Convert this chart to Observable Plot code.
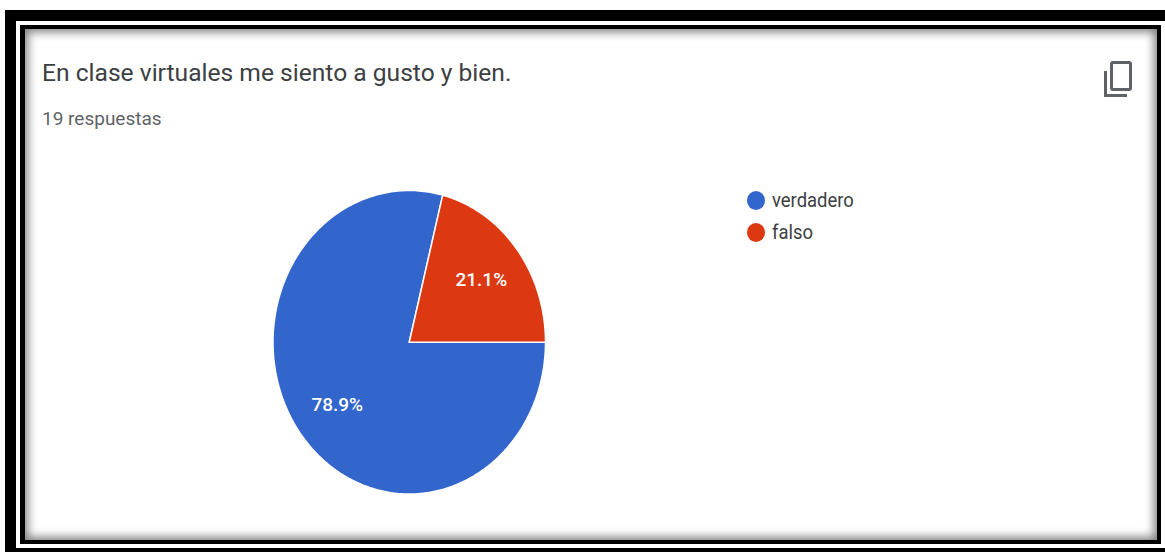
<!DOCTYPE html>
<html lang="es">
<head>
<meta charset="utf-8">
<script src="https://cdn.jsdelivr.net/npm/d3@7"></script>
<script src="https://cdn.jsdelivr.net/npm/@observablehq/plot@0.6"></script>
<style>
  html, body { margin: 0; padding: 0; background: #fff; width: 1165px; height: 552px; overflow: hidden; }
  #stage { position: relative; width: 1165px; height: 552px; overflow: hidden; font-family: Roboto, sans-serif; }
  .abs { position: absolute; }
  #outerL { left: 5px; top: 10px; width: 11px; height: 542px; background: #000; }
  #outerT { left: 5px; top: 10px; width: 1160px; height: 11px; background: #000; }
  #outerB { left: 5px; top: 548px; width: 1160px; height: 4px; background: #000; }
  #inner { left: 20px; top: 25px; width: 1141px; height: 519px; box-sizing: border-box; background: #fff;
           border: 4px solid #000; border-left-width: 5px; box-shadow: inset 0 0 10px 3px rgba(0,0,0,.5); }
  #chart { left: 0; top: 0; }
  #chart svg { display: block; background: transparent; }
  .txt { white-space: nowrap; transform-origin: left top; }
  #title { left: 42px; top: 58px; font-size: 24.6px; line-height: 30px; color: #3c4043; }
  #sub { left: 42px; top: 108px; font-size: 19px; line-height: 22px; color: #5f6368; }
  .dot { width: 18px; height: 19px; border-radius: 50%; left: 747px; }
  .leg { left: 772px; font-size: 19.5px; line-height: 24px; color: #3c4043; transform: scaleX(.945); }
  #ico1 { left: 1110px; top: 61px; width: 22px; height: 30px; box-sizing: border-box; border: 3px solid #5f6368; border-radius: 3px; }
  #ico2 { left: 1104px; top: 71px; width: 23px; height: 26px; box-sizing: border-box; border-left: 3px solid #5f6368; border-bottom: 3px solid #5f6368; }
</style>
</head>
<body>
<div id="stage">
  <div id="outerL" class="abs"></div>
  <div id="outerT" class="abs"></div>
  <div id="outerB" class="abs"></div>
  <div id="inner" class="abs"></div>
  <div id="chart" class="abs"></div>
  <div id="title" class="abs txt">En clase virtuales me siento a gusto y bien.</div>
  <div id="sub" class="abs txt">19 respuestas</div>
  <div id="ico2" class="abs"></div>
  <div id="ico1" class="abs"></div>
  <div class="abs dot" style="top:191px;background:#3366cc"></div>
  <div class="abs leg txt" style="top:189px">verdadero</div>
  <div class="abs dot" style="top:223px;background:#dc3912"></div>
  <div class="abs leg txt" style="top:221px">falso</div>
</div>
<script>
const categories = ["verdadero", "falso"];
const counts = [15, 4];
const percentLabels = ["78.9%", "21.1%"];
const colors = ["#3366cc", "#dc3912"];

const total = d3.sum(counts);
// Slices run clockwise from 3 o'clock, in unit-circle data space.
const startAngle = Math.PI / 2;
let running = 0;
const outline = [];
const labels = [];
categories.forEach((name, i) => {
  const a0 = startAngle + (running / total) * 2 * Math.PI;
  running += counts[i];
  const a1 = startAngle + (running / total) * 2 * Math.PI;
  const n = Math.ceil((a1 - a0) / (Math.PI / 180));
  outline.push({slice: name, px: 0, py: 0});
  for (let k = 0; k <= n; ++k) {
    const a = a0 + (a1 - a0) * k / n;
    outline.push({slice: name, px: Math.sin(a), py: Math.cos(a)});
  }
  outline.push({slice: name, px: 0, py: 0});
  const mid = (a0 + a1) / 2;
  labels.push({text: percentLabels[i], px: 0.67 * Math.sin(mid), py: 0.67 * Math.cos(mid)});
});

const plot = Plot.plot({
  width: 1165,
  height: 552,
  marginLeft: 272.5,
  marginRight: 620,
  marginTop: 190,
  marginBottom: 58.5,
  style: {background: "transparent", overflow: "visible"},
  x: {domain: [-1, 1], axis: null},
  y: {domain: [-1, 1], axis: null},
  color: {domain: categories, range: colors},
  marks: [
    Plot.line(outline, {x: "px", y: "py", z: "slice", fill: "slice", stroke: "#fff", strokeWidth: 1.5, strokeLinejoin: "miter", curve: "linear"}),
    Plot.text(labels, {x: "px", y: "py", text: "text", fill: "#fff", fontSize: 19, fontWeight: 500, fontFamily: "Roboto, sans-serif", textAnchor: "middle", lineAnchor: "middle"})
  ]
});
document.getElementById("chart").appendChild(plot);
</script>
</body>
</html>
